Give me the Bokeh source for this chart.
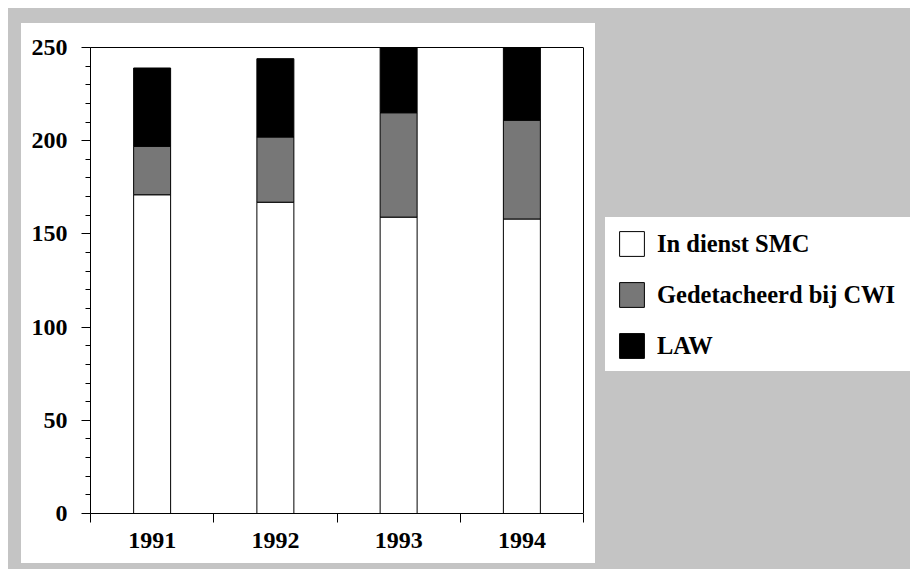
from bokeh.plotting import figure
from bokeh.models import (ColumnDataSource, Range1d, SingleIntervalTicker,
                          FixedTicker, LinearAxis, Span)
from bokeh.embed import file_html
from bokeh.resources import INLINE

# ---- data ----
years = [1991, 1992, 1993, 1994]
in_dienst_smc = [171, 167, 159, 158]
gedetacheerd_cwi = [26, 35, 56, 53]
law = [42, 42, 37, 41]
series = ["In dienst SMC", "Gedetacheerd bij CWI", "LAW"]
y_ticks_interval = 50

source = ColumnDataSource(dict(
    year=years,
    **{series[0]: in_dienst_smc, series[1]: gedetacheerd_cwi, series[2]: law}
))

FONT = "Liberation Serif"
GREY_BG = "#c4c4c4"

W, H = 910, 569
LEFT, TOP, BOTTOM = 90, 47, 56
x_lo = years[0] - 0.5
x_hi = years[-1] + 0.5
# frame extends to the right edge so the legend (drawn inside it) is not clipped
frame_px = W - LEFT
plot_px = 493
x_end = x_lo + (x_hi - x_lo) * frame_px / plot_px

p = figure(width=W, height=H, output_backend="svg", toolbar_location=None,
           x_range=Range1d(x_lo, x_end),
           y_range=Range1d(0, 250),
           min_border_left=LEFT, min_border_right=0,
           min_border_top=TOP, min_border_bottom=BOTTOM)

# grey page with white chart panel and white legend panel (CSS background of the plot element)
p.styles = {
    "background-color": "white",
    "background-image": ("linear-gradient(white, white), "
                         "linear-gradient(white, white), "
                         f"linear-gradient({GREY_BG}, {GREY_BG})"),
    "background-size": "574px 540px, 305px 154px, 902px 561px",
    "background-position": "21px 23px, 605px 217px, 8px 8px",
    "background-repeat": "no-repeat",
}
p.border_fill_color = None
p.background_fill_color = None
p.outline_line_color = None
p.xgrid.visible = False
p.ygrid.visible = False

p.vbar_stack(series, x="year", width=0.3, source=source,
             fill_color=["white", "#777777", "black"],
             line_color="black", line_width=1,
             legend_label=series)

# y axis
ya = p.yaxis[0]
ya.ticker = SingleIntervalTicker(interval=y_ticks_interval, num_minor_ticks=5)
ya.major_tick_out = 9
ya.major_tick_in = 0
ya.minor_tick_out = 5
ya.minor_tick_in = 0
ya.major_label_standoff = 14
ya.major_label_text_font = FONT
ya.major_label_text_font_style = "bold"
ya.major_label_text_font_size = "24px"
ya.major_label_text_color = "black"
ya.axis_line_color = "black"

# x axis
xa = p.xaxis[0]
xa.bounds = (x_lo, x_hi)
xa.ticker = FixedTicker(ticks=years,
                        minor_ticks=[y - 0.5 for y in years] + [x_hi])
xa.major_tick_out = 0
xa.major_tick_in = 0
xa.minor_tick_out = 9
xa.minor_tick_in = 0
xa.major_label_standoff = 10
xa.major_label_text_font = FONT
xa.major_label_text_font_style = "bold"
xa.major_label_text_font_size = "24px"
xa.major_label_text_color = "black"
xa.axis_line_color = "black"

# plot-area border: top line (bare axis) and right line (span)
top = LinearAxis(bounds=(x_lo, x_hi), ticker=FixedTicker(ticks=[]),
                 major_tick_out=0, major_tick_in=0,
                 minor_tick_out=0, minor_tick_in=0,
                 major_label_text_color=None, axis_line_color="black")
p.add_layout(top, "above")
p.add_layout(Span(location=x_hi, dimension="height",
                  line_color="black", line_width=1))

# legend (white box comes from the CSS background)
lg = p.legend[0]
lg.location = (526, 152)
lg.padding = 0
lg.margin = 0
lg.spacing = 20
lg.glyph_width = 31
lg.glyph_height = 31
lg.label_height = 31
lg.label_standoff = 10
lg.label_text_font = FONT
lg.label_text_font_style = "bold"
lg.label_text_font_size = "24.5px"
lg.label_text_color = "black"
lg.border_line_color = None
lg.background_fill_color = None
lg.background_fill_alpha = 0.0

open("out.html", "w").write(file_html(p, INLINE))
